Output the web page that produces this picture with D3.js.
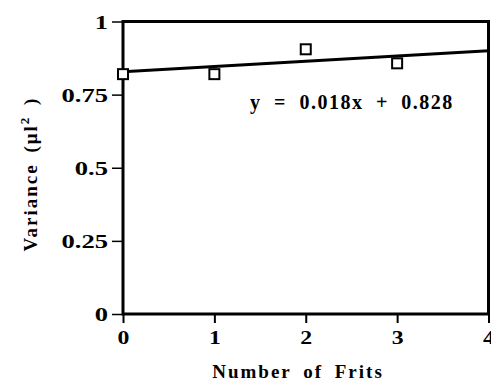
<!DOCTYPE html>
<html>
<head>
<meta charset="utf-8">
<script src="https://d3js.org/d3.v7.min.js"></script>
<style>
  body { margin: 0; background: #fff; }
</style>
</head>
<body>
<svg id="chart"></svg>
<script>
// data
const frits = [0, 1, 2, 3];
const variance = [0.82, 0.82, 0.905, 0.857];
const fitSlope = 0.018;
const fitIntercept = 0.828;
const xTicks = [0, 1, 2, 3, 4];
const yTicks = [0, 0.25, 0.5, 0.75, 1];
const yTickLabels = ["0", "0.25", "0.5", "0.75", "1"];

const FONT = "'Liberation Serif', 'Times New Roman', Times, serif";
const stretch = 1.4; // the scanned tick labels are wide

const margin = {top: 21.5, right: 2.5, bottom: 67, left: 123};
const W = 491, H = 381;
const width = W - margin.left - margin.right;
const height = H - margin.top - margin.bottom;

const svg = d3.select("#chart").attr("width", W).attr("height", H)
  .style("font-family", FONT)
  .style("font-weight", "bold");
const g = svg.append("g")
  .attr("transform", "translate(" + margin.left + "," + margin.top + ")");

const x = d3.scaleLinear().domain([0, 4]).range([0, width]);
const y = d3.scaleLinear().domain([0, 1]).range([height, 0]);

// frame
g.append("rect")
  .attr("x", 0).attr("y", 0)
  .attr("width", width).attr("height", height)
  .attr("fill", "none")
  .attr("stroke", "#000")
  .attr("stroke-width", 3);

// y axis ticks + labels
const yAxis = g.append("g")
  .call(d3.axisLeft(y).tickValues(yTicks).tickSize(11).tickPadding(4)
    .tickFormat((d, i) => yTickLabels[i]));
yAxis.attr("font-family", null);
yAxis.select(".domain").remove();
yAxis.selectAll(".tick line").attr("stroke-width", 1.5);
yAxis.selectAll(".tick text")
  .style("font-family", FONT)
  .style("font-weight", "bold")
  .attr("font-size", 19)
  .attr("dy", "0.35em")
  .attr("x", -15 / stretch)
  .attr("transform", "scale(" + stretch + ",1)")
  .attr("fill", "#000");

// x axis ticks + labels
const xAxis = g.append("g")
  .attr("transform", "translate(0," + height + ")")
  .call(d3.axisBottom(x).tickValues(xTicks).tickSize(9).tickPadding(8)
    .tickFormat(d3.format("d")));
xAxis.attr("font-family", null);
xAxis.select(".domain").remove();
xAxis.selectAll(".tick line").attr("stroke-width", 2);
xAxis.selectAll(".tick text")
  .style("font-family", FONT)
  .style("font-weight", "bold")
  .attr("font-size", 19)
  .attr("transform", "scale(1.25,1)")
  .attr("fill", "#000");

// fitted line
const line = d3.line()
  .x(d => x(d))
  .y(d => y(fitSlope * d + fitIntercept));
g.append("path")
  .datum([0, 4])
  .attr("d", line)
  .attr("fill", "none")
  .attr("stroke", "#000")
  .attr("stroke-width", 3);

// open square markers
g.selectAll("rect.pt")
  .data(frits)
  .enter().append("rect")
  .attr("class", "pt")
  .attr("x", d => x(d) - 5)
  .attr("y", (d, i) => y(variance[i]) - 5)
  .attr("width", 10)
  .attr("height", 10)
  .attr("fill", "#fff")
  .attr("stroke", "#000")
  .attr("stroke-width", 2);

// equation
g.append("text")
  .attr("x", x(1.39))
  .attr("y", y(0.702))
  .attr("font-size", 20)
  .style("letter-spacing", "1.5px")
  .style("word-spacing", "6px")
  .text("y = " + fitSlope.toFixed(3) + "x + " + fitIntercept.toFixed(3));

// axis titles
svg.append("text")
  .attr("x", 298)
  .attr("y", 378)
  .attr("text-anchor", "middle")
  .attr("font-size", 19)
  .style("letter-spacing", "2px")
  .style("word-spacing", "5px")
  .text("Number of Frits");

const yt = svg.append("text")
  .attr("transform", "translate(37,174) rotate(-90)")
  .attr("text-anchor", "middle")
  .attr("font-size", 19)
  .style("letter-spacing", "2px")
  .style("word-spacing", "4px");
yt.append("tspan").text("Variance (\u03bcl");
yt.append("tspan").attr("font-size", 13).attr("dy", -8).text("2");
yt.append("tspan").attr("dy", 8).text(" )");
</script>
</body>
</html>
